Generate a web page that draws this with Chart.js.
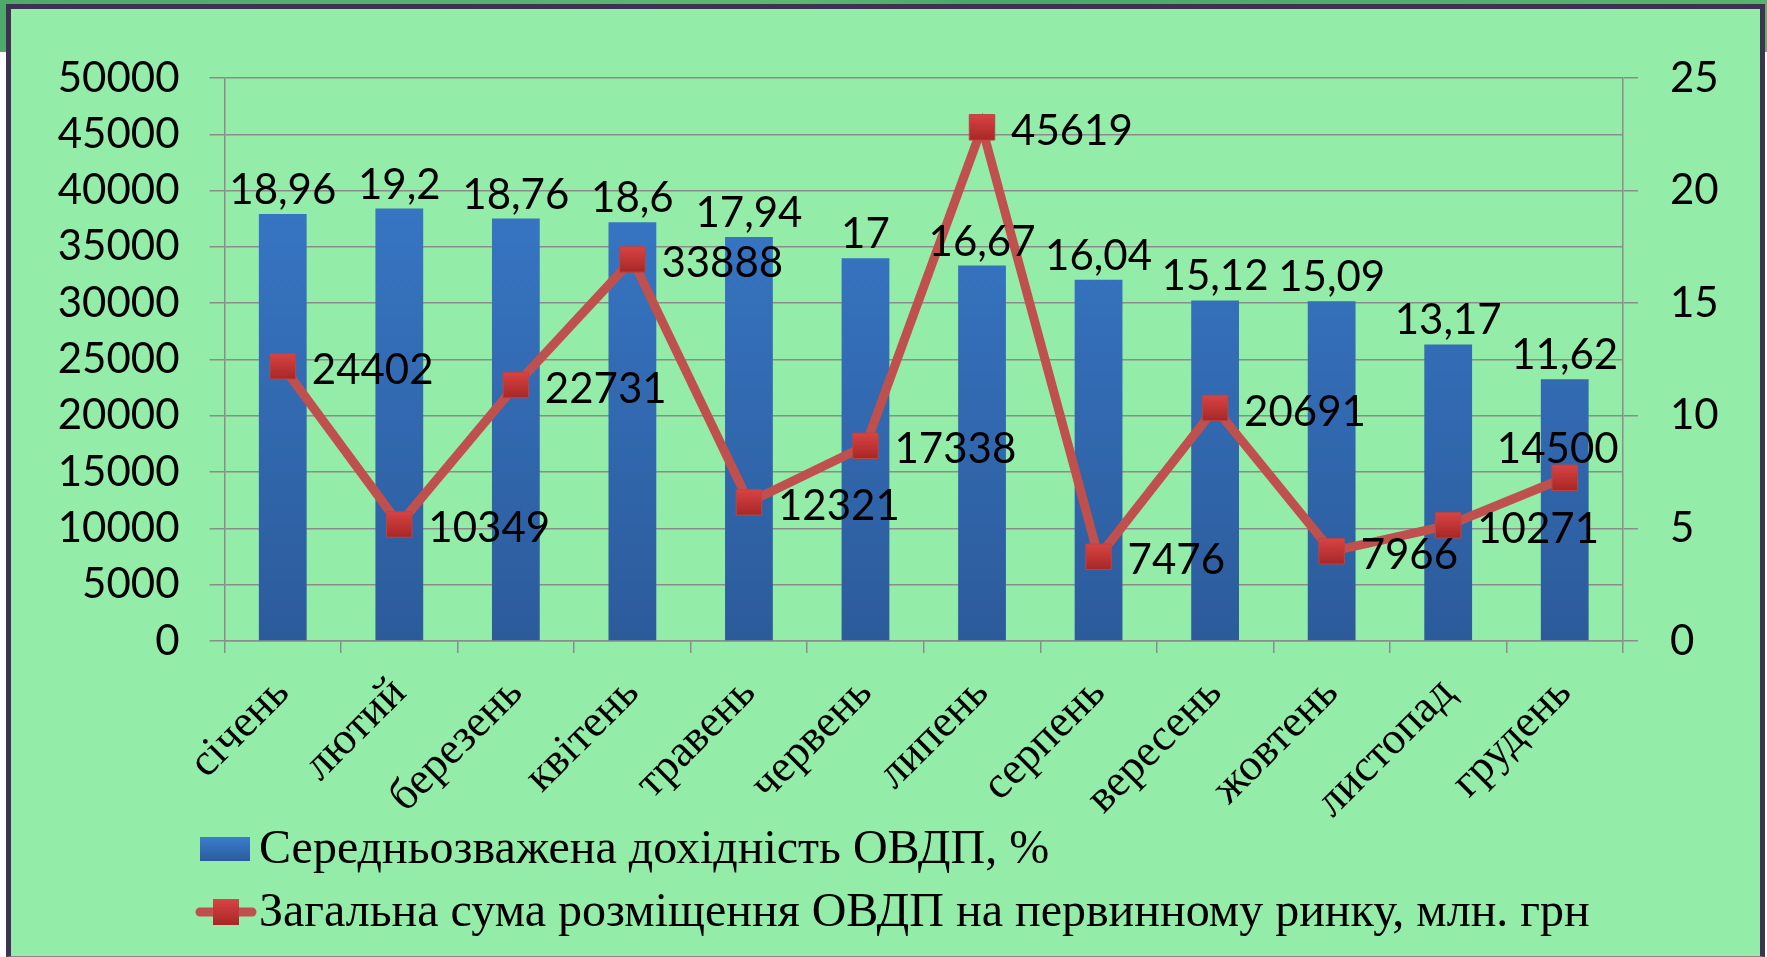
<!DOCTYPE html>
<html>
<head>
<meta charset="utf-8">
<script src="https://cdn.jsdelivr.net/npm/chart.js@4"></script>
<style>
  body { margin: 0; width: 1767px; height: 957px; overflow: hidden; background: #fff; position: relative; }
  #strip { position: absolute; left: 0; top: 0; width: 1767px; height: 52px; background: linear-gradient(90deg, #4fa96a, #5cb870 45%, #4aa866 55%, #58b46c); }
  #frame { position: absolute; left: 6px; top: 4px; width: 1759px; height: 953px; box-sizing: border-box;
           border: 5px solid #3f3152; border-bottom: 1px solid #888; background: #93eca7; }
  #chart { position: absolute; left: 0; top: 0; }
</style>
</head>
<body>
<div id="strip"></div>
<div id="frame"></div>
<canvas id="chart" width="1767" height="957"></canvas>
<script>
const months = ['січень', 'лютий', 'березень', 'квітень', 'травень', 'червень',
  'липень', 'серпень', 'вересень', 'жовтень', 'листопад', 'грудень'];
const yieldPct = [18.96, 19.2, 18.76, 18.6, 17.94, 17, 16.67, 16.04, 15.12, 15.09, 13.17, 11.62];
const placement = [24402, 10349, 22731, 33888, 12321, 17338, 45619, 7476, 20691, 7966, 10271, 14500];
const barLabel = 'Середньозважена дохідність ОВДП, %';
const lineLabel = 'Загальна сума розміщення ОВДП на первинному ринку, млн. грн';

const fmt = v => String(v).replace('.', ',');
const gridColor = '#8c8c8c';
const numFont = { family: 'Lato', size: 42 };

function barFill(c) {
  const area = c.chart.chartArea;
  if (!area || !Number.isFinite(area.top) || !Number.isFinite(area.bottom)) return '#3670b8';
  const g = c.chart.ctx.createLinearGradient(0, area.top, 0, area.bottom);
  g.addColorStop(0, '#3a7dcf');
  g.addColorStop(1, '#2c5b9b');
  return g;
}

function pointFill(c) {
  const s = c.chart.scales.y;
  if (!s || !c.parsed) return '#c83a3a';
  const py = s.getPixelForValue(c.parsed.y);
  if (!Number.isFinite(py)) return '#c83a3a';
  const g = c.chart.ctx.createLinearGradient(0, py - 13, 0, py + 13);
  g.addColorStop(0, '#d84444');
  g.addColorStop(1, '#a82626');
  return g;
}

// data labels: bars above, line to the right (last one above)
const valueLabels = {
  id: 'valueLabels',
  afterDatasetsDraw(chart) {
    const ctx = chart.ctx;
    ctx.save();
    ctx.font = '42px Lato';
    ctx.fillStyle = '#000';
    chart.getDatasetMeta(0).data.forEach((b, i) => {
      ctx.textAlign = 'center';
      ctx.textBaseline = 'alphabetic';
      ctx.fillText(fmt(yieldPct[i]), b.x, b.y - 10);
    });
    const pts = chart.getDatasetMeta(1).data;
    pts.forEach((p, i) => {
      if (i === pts.length - 1) {
        ctx.textAlign = 'center';
        ctx.textBaseline = 'alphabetic';
        ctx.fillText(placement[i], p.x - 7, p.y - 15);
      } else {
        ctx.textAlign = 'left';
        ctx.textBaseline = 'middle';
        ctx.fillText(placement[i], p.x + 29, p.y + 4);
      }
    });
    ctx.restore();
  }
};

// legend in Excel style, two rows under the axis labels
const bottomLegend = {
  id: 'bottomLegend',
  afterDraw(chart) {
    const ctx = chart.ctx;
    ctx.save();
    const g = ctx.createLinearGradient(0, 837, 0, 861);
    g.addColorStop(0, '#3a7dcf');
    g.addColorStop(1, '#2c5b9b');
    ctx.fillStyle = g;
    ctx.fillRect(200, 837, 50, 24);

    ctx.strokeStyle = '#c0504d';
    ctx.lineWidth = 9;
    ctx.lineCap = 'round';
    ctx.beginPath();
    ctx.moveTo(200, 912);
    ctx.lineTo(252, 912);
    ctx.stroke();
    const pg = ctx.createLinearGradient(0, 899, 0, 925);
    pg.addColorStop(0, '#d84444');
    pg.addColorStop(1, '#a82626');
    ctx.fillStyle = pg;
    ctx.fillRect(213, 899, 26, 26);

    ctx.fillStyle = '#000';
    ctx.font = '48px "Liberation Serif"';
    ctx.textAlign = 'left';
    ctx.textBaseline = 'middle';
    ctx.fillText(barLabel, 259, 850);
    ctx.fillText(lineLabel, 259, 913);
    ctx.restore();
  }
};

new Chart(document.getElementById('chart'), {
  data: {
    labels: months,
    datasets: [
      {
        type: 'bar',
        label: barLabel,
        data: yieldPct,
        yAxisID: 'y1',
        backgroundColor: barFill,
        barPercentage: 0.41,
        categoryPercentage: 1,
        order: 2
      },
      {
        type: 'line',
        label: lineLabel,
        data: placement,
        yAxisID: 'y',
        borderColor: '#c0504d',
        borderWidth: 9,
        tension: 0,
        pointStyle: 'rect',
        pointRadius: 18,
        pointHoverRadius: 18,
        pointBackgroundColor: pointFill,
        pointBorderColor: '#b84644',
        pointBorderWidth: 1,
        order: 1
      }
    ]
  },
  options: {
    responsive: false,
    animation: false,
    devicePixelRatio: 1,
    layout: { padding: { top: 78, left: 0, right: 0, bottom: 0 } },
    plugins: { legend: { display: false }, tooltip: { enabled: false } },
    scales: {
      x: {
        grid: { drawOnChartArea: false, color: gridColor, tickLength: 12, lineWidth: 1.5 },
        border: { color: gridColor, width: 1.5 },
        ticks: {
          color: '#000', font: { family: 'Liberation Serif', size: 45 },
          minRotation: 45, maxRotation: 45, padding: 14
        },
        afterFit: s => { s.height = 316; }
      },
      y: {
        position: 'left',
        min: 0, max: 50000,
        grid: { color: gridColor, tickLength: 15, lineWidth: 1.5 },
        border: { color: gridColor, width: 1.5 },
        ticks: { stepSize: 5000, color: '#000', font: numFont, padding: 30, callback: v => String(v) },
        afterFit: s => { s.width = 224.5; }
      },
      y1: {
        position: 'right',
        min: 0, max: 25,
        grid: { drawOnChartArea: false, color: gridColor, tickLength: 15, lineWidth: 1.5 },
        border: { color: gridColor, width: 1.5 },
        ticks: { stepSize: 5, color: '#000', font: numFont, padding: 32 },
        afterFit: s => { s.width = 144; }
      }
    }
  },
  plugins: [valueLabels, bottomLegend]
});
</script>
</body>
</html>
